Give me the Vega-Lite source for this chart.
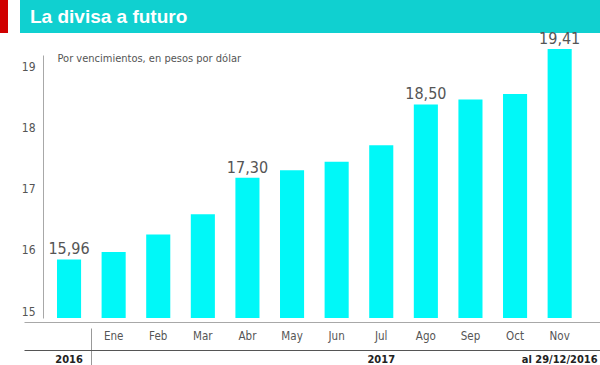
{
  "$schema": "https://vega.github.io/schema/vega-lite/v6.json",
  "padding": 0,
  "background": "white",
  "bounds": "flush",
  "spacing": 12,
  "config": {"view": {"stroke": null}, "font": "Liberation Sans"},
  "hconcat": [
    {
      "width": 8, "height": 33,
      "view": {"fill": "#d00000", "stroke": null},
      "data": {"values": [{}]},
      "mark": {"type": "text", "text": ""}
    },
    {
      "bounds": "flush",
      "spacing": 7,
      "vconcat": [
        {
          "width": 580, "height": 33,
          "view": {"fill": "#10d0d0", "stroke": null},
          "title": {"text": "La divisa a futuro", "orient": "top", "anchor": "start", "frame": "group", "offset": -27, "dx": 10, "color": "white", "fontSize": 19, "fontWeight": "bold", "font": "Liberation Sans"},
          "data": {"values": [{}]},
          "mark": {"type": "text", "text": ""}
        },
        {
          "width": 580,
          "height": 278,
          "data": {"values": [
            {"mes": "Dic", "valor": 15.96, "etiqueta": "15,96"},
            {"mes": "Ene", "valor": 16.08, "etiqueta": ""},
            {"mes": "Feb", "valor": 16.37, "etiqueta": ""},
            {"mes": "Mar", "valor": 16.70, "etiqueta": ""},
            {"mes": "Abr", "valor": 17.30, "etiqueta": "17,30"},
            {"mes": "May", "valor": 17.42, "etiqueta": ""},
            {"mes": "Jun", "valor": 17.56, "etiqueta": ""},
            {"mes": "Jul", "valor": 17.83, "etiqueta": ""},
            {"mes": "Ago", "valor": 18.50, "etiqueta": "18,50"},
            {"mes": "Sep", "valor": 18.58, "etiqueta": ""},
            {"mes": "Oct", "valor": 18.67, "etiqueta": ""},
            {"mes": "Nov", "valor": 19.41, "etiqueta": "19,41"}
          ]},
          "resolve": {"axis": {"x": "independent"}},
          "layer": [
            {
              "mark": {"type": "bar", "color": "#00f8f8"},
              "encoding": {
                "x": {
                  "field": "mes", "type": "nominal",
                  "scale": {"domain": ["Dic","Ene","Feb","Mar","Abr","May","Jun","Jul","Ago","Sep","Oct","Nov"], "paddingInner": 0.46, "paddingOuter": 0.732, "align": 0.5666},
                  "axis": {
                    "orient": "bottom", "offset": 4, "title": null,
                    "domainColor": "#a8a8a8", "domainWidth": 1, "domainDash": [0, 4, 600, 0],
                    "bandPosition": -0.425,
                    "ticks": true, "tickSize": 43, "tickColor": "#999999", "tickWidth": 1, "tickDash": [0, 6, 40, 0],
                    "tickOpacity": {"condition": {"test": "datum.value === 'Ene'", "value": 1}, "value": 0},
                    "labelPadding": -35, "labelBaseline": "top",
                    "labelExpr": "datum.value === 'Dic' ? '' : datum.value",
                    "labelFont": "DejaVu Sans Condensed, Liberation Sans", "labelFontSize": 11.5, "labelColor": "#555555",
                    "labelOverlap": false, "labelFlush": false, "labelAngle": 0
                  }
                },
                "y": {
                  "field": "valor", "type": "quantitative",
                  "scale": {"domain": [15, 19.557], "zero": false, "nice": false},
                  "axis": {
                    "orient": "left", "offset": -23, "values": [15, 16, 17, 18, 19],
                    "grid": false, "ticks": false, "domainColor": "#a8a8a8", "domainDash": [263, 60],
                    "labelPadding": 8, "labelOffset": -7, "labelColor": "#555555", "labelFontSize": 12,
                    "labelFont": "DejaVu Sans Condensed, Liberation Sans",
                    "labelExpr": "datum.value",
                    "title": "Por vencimientos, en pesos por dólar",
                    "titleAngle": 0, "titleAlign": "left", "titleBaseline": "middle",
                    "titleX": 14, "titleY": 18, "titleFont": "DejaVu Sans Condensed, Liberation Sans",
                    "titleFontSize": 11, "titleFontWeight": "normal", "titleColor": "#555555"
                  }
                },
                "y2": {"datum": 15}
              }
            },
            {
              "mark": {"type": "text", "baseline": "bottom", "dy": -2, "fontSize": 16, "font": "DejaVu Sans Condensed, Liberation Sans", "color": "#555555"},
              "encoding": {
                "x": {
                  "field": "mes", "type": "nominal",
                  "axis": {
                    "orient": "bottom", "offset": 32, "title": null,
                    "domainColor": "#555555", "domainWidth": 1, "domainDash": [0, 4, 600, 0],
                    "ticks": false, "labelPadding": 3, "labelBaseline": "top",
                    "labelExpr": "datum.value === 'Dic' ? '2016' : datum.value === 'Jul' ? '2017' : datum.value === 'Nov' ? 'al 29/12/2016' : ''",
                    "labelFont": "DejaVu Sans Condensed, Liberation Sans", "labelFontSize": 11, "labelFontWeight": "bold", "labelColor": "#222222",
                    "labelOverlap": false, "labelFlush": false, "labelAngle": 0
                  }
                },
                "y": {"field": "valor", "type": "quantitative"},
                "text": {"field": "etiqueta"}
              }
            }
          ]
        }
      ]
    }
  ]
}
